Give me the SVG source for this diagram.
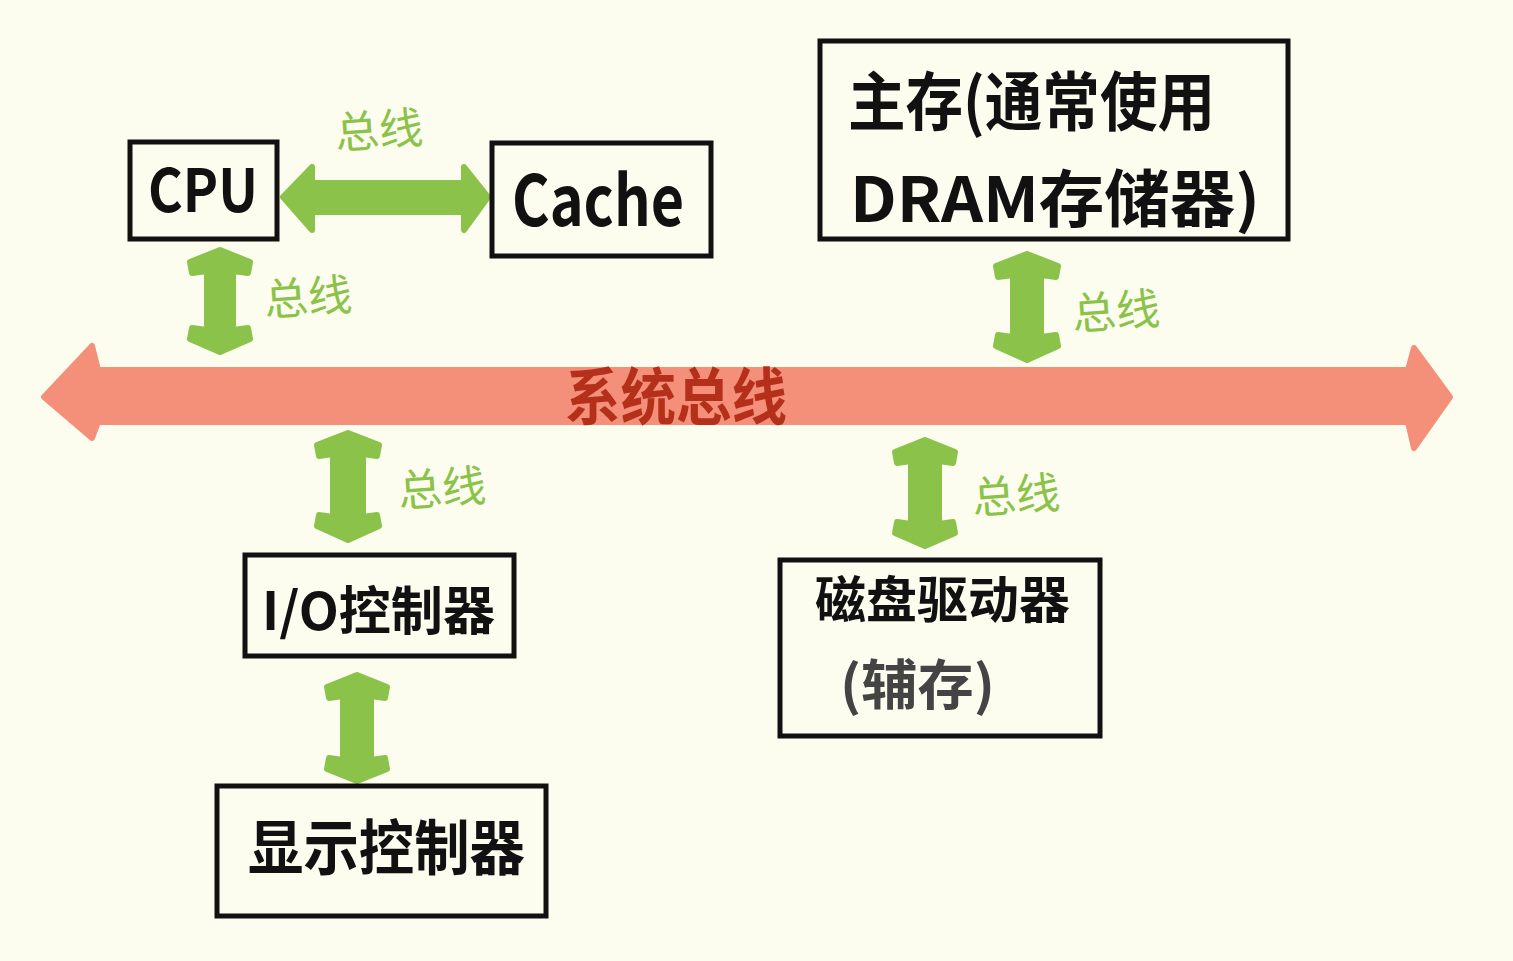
<svg xmlns="http://www.w3.org/2000/svg" width="1513" height="961" viewBox="0 0 1513 961">
<style>
.box{fill:none;stroke:#111;stroke-width:5}
.t{font-family:"Noto Sans CJK SC","Noto Sans",sans-serif;font-weight:700;fill:#111}
.lbl{font-family:"Noto Sans CJK SC",sans-serif;font-weight:400;fill:#8BC34A;font-size:44px}
.g{fill:#8BC34A;stroke:#8BC34A;stroke-width:6;stroke-linejoin:round}
.bus{fill:#F4907A;stroke:#F4907A;stroke-width:6;stroke-linejoin:round}
</style>
<rect width="1513" height="961" fill="#FCFDEF"/>
<g id="connectors">
  <path id="system-bus" class="bus" d="M44,397 L92,346 L98,370 L1408,370 L1414,348 L1450,397 L1414,448 L1408,422 L98,422 L92,438 Z"/>
  <text class="t" x="565" y="420" font-size="62" style="fill:#B5301A" textLength="222" lengthAdjust="spacingAndGlyphs">系统总线</text>
  <path id="cpu-cache" class="g" d="M283,197 L312,167 L312,183 L464,183 L464,167 L488,197 L464,230 L464,212 L312,212 L312,230 Z"/>
  <text class="lbl" x="335" y="146" transform="rotate(-4 380 131)">总线</text>
  <path id="cpu-bus" class="g" d="M220,250 L250,262 L248,273 L233,271 L233,330 L248,328 L250,339 L220,352 L190,339 L192,328 L207,330 L207,271 L192,273 L190,262 Z"/>
  <text class="lbl" x="264" y="313" transform="rotate(-4 308 297)">总线</text>
  <path id="main-bus" class="g" d="M1027,254 L1058,266 L1056,277 L1041,275 L1041,337 L1056,335 L1058,346 L1027,360 L996,346 L998,335 L1013,337 L1013,275 L998,277 L996,266 Z"/>
  <text class="lbl" x="1072" y="327" transform="rotate(-4 1117 311)">总线</text>
  <path id="io-bus" class="g" d="M348,433 L379,445 L377,456 L363,454 L363,517 L377,515 L379,526 L348,540 L317,526 L319,515 L333,517 L333,454 L319,456 L317,445 Z"/>
  <text class="lbl" x="398" y="504" transform="rotate(-4 443 488)">总线</text>
  <path id="disk-bus" class="g" d="M925,440 L955,452 L953,463 L939,461 L939,524 L953,522 L955,533 L925,546 L895,533 L897,522 L911,524 L911,461 L897,463 L895,452 Z"/>
  <text class="lbl" x="972" y="511" transform="rotate(-4 1017 495)">总线</text>
  <path id="io-display" class="g" d="M357,675 L387,687 L385,698 L371,696 L371,760 L385,758 L387,769 L357,781 L327,769 L329,758 L343,760 L343,696 L329,698 L327,687 Z"/>
</g>
<g id="cpu">
  <rect class="box" x="130" y="142" width="147" height="97"/>
  <text class="t" x="148" y="212" font-size="60" textLength="110" lengthAdjust="spacingAndGlyphs">CPU</text>
</g>
<g id="cache">
  <rect class="box" x="492" y="143" width="219" height="113"/>
  <text class="t" x="512" y="226" font-size="70" textLength="172" lengthAdjust="spacingAndGlyphs">Cache</text>
</g>
<g id="main-memory">
  <rect class="box" x="820" y="41" width="468" height="198"/>
  <text class="t" x="848" y="125" font-size="64" textLength="367" lengthAdjust="spacingAndGlyphs">主存(通常使用</text>
  <text class="t" x="850" y="222" font-size="62" textLength="410" lengthAdjust="spacingAndGlyphs">DRAM存储器)</text>
</g>
<g id="io-controller">
  <rect class="box" x="245" y="555" width="269" height="101"/>
  <text class="t" x="262" y="630" font-size="52" textLength="233" lengthAdjust="spacingAndGlyphs">I/O控制器</text>
</g>
<g id="display-controller">
  <rect class="box" x="217" y="786" width="329" height="130"/>
  <text class="t" x="248" y="870" font-size="60" textLength="277" lengthAdjust="spacingAndGlyphs">显示控制器</text>
</g>
<g id="disk-drive">
  <rect class="box" x="780" y="560" width="320" height="176"/>
  <text class="t" x="815" y="618" font-size="50" textLength="255" lengthAdjust="spacingAndGlyphs">磁盘驱动器</text>
  <text class="t" x="840" y="705" font-size="54" style="fill:#444" textLength="155" lengthAdjust="spacingAndGlyphs">(辅存)</text>
</g>
</svg>
